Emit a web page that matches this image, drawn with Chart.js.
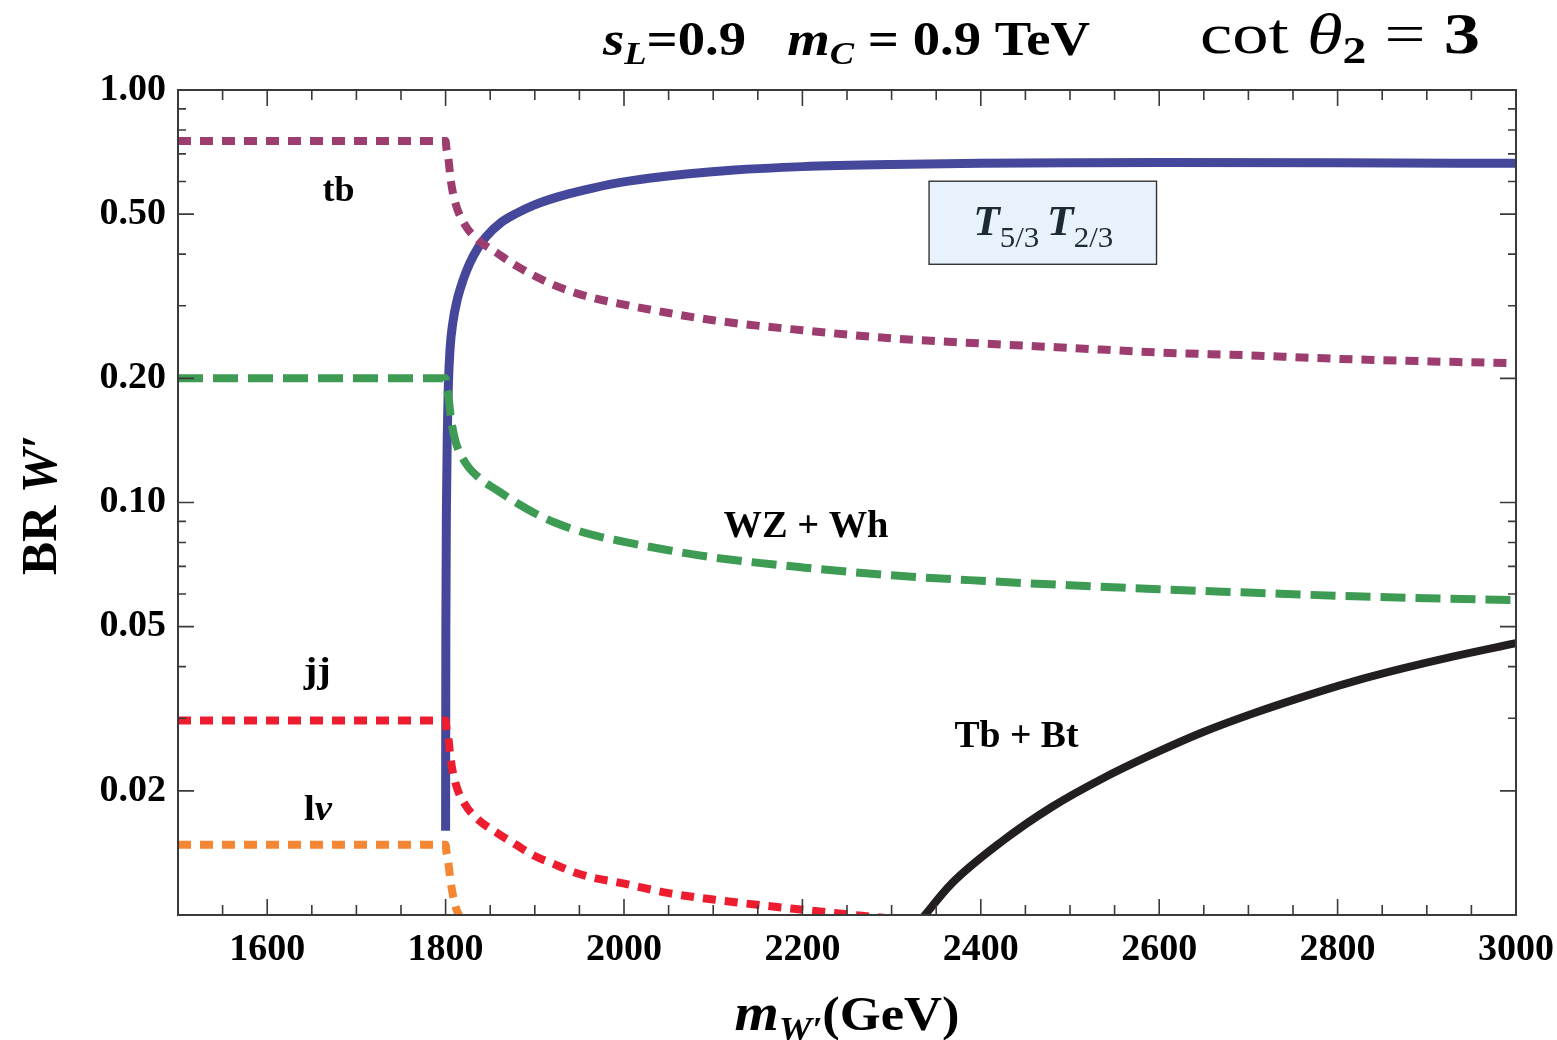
<!DOCTYPE html>
<html>
<head>
<meta charset="utf-8">
<script src="https://cdn.jsdelivr.net/npm/chart.js@4.4.0/dist/chart.umd.min.js"></script>
<style>
  html, body { margin: 0; padding: 0; background: #fff; }
  #wrap { width: 1557px; height: 1040px; }
</style>
</head>
<body>
<div id="wrap"><canvas id="chart" width="1557" height="1040"></canvas></div>
<script>
// BR of W' vs its mass (s_L=0.9, m_C=0.9 TeV, cot theta2=3)
const massTb = [1500, 1800, 1801, 1803, 1806, 1811, 1822, 1837, 1858, 1879, 1900, 1921, 1944, 1966, 1993, 2050, 2100, 2200, 2300, 2400, 2500, 2600, 2700, 2800, 2900, 3000];
const brTb   = [0.752, 0.752, 0.72, 0.684, 0.60, 0.532, 0.470, 0.432, 0.402, 0.375, 0.354, 0.337, 0.323, 0.313, 0.304, 0.288, 0.2765, 0.2616, 0.250, 0.243, 0.237, 0.231, 0.2274, 0.223, 0.2199, 0.2175];

const massWZ = [1500, 1800, 1801, 1803, 1806, 1811, 1822, 1837, 1858, 1879, 1900, 1921, 1944, 1966, 1993, 2050, 2100, 2200, 2300, 2400, 2500, 2600, 2700, 2800, 2900, 3000];
const brWZ   = [0.2, 0.2, 0.19, 0.182, 0.16, 0.141, 0.125, 0.115, 0.107, 0.1, 0.0942, 0.0897, 0.086, 0.0833, 0.0809, 0.0766, 0.0736, 0.0696, 0.0666, 0.0646, 0.063, 0.0616, 0.0605, 0.0594, 0.0586, 0.058];

const massJJ = [1500, 1800, 1801, 1803, 1806, 1811, 1822, 1837, 1858, 1879, 1900, 1921, 1944, 1966, 1993, 2050, 2100, 2200, 2300];
const brJJ   = [0.0296, 0.0296, 0.0283, 0.0269, 0.0236, 0.0209, 0.0185, 0.017, 0.0158, 0.0148, 0.0139, 0.0133, 0.0127, 0.0123, 0.012, 0.0113, 0.0109, 0.0103, 0.0098];

const massLv = [1500, 1800, 1801, 1803, 1806, 1811, 1817];
const brLv   = [0.0148, 0.0148, 0.0142, 0.0134, 0.0119, 0.0105, 0.0098];

const massTT = [1800, 1800.3, 1801, 1802, 1803, 1805, 1808, 1813, 1820, 1827, 1836, 1845, 1862, 1880, 1899, 1925, 1955, 1990, 2030, 2070, 2120, 2200, 2300, 2400, 2500, 2600, 2800, 3000];
const brTT   = [0.016, 0.05, 0.10, 0.15, 0.19, 0.236, 0.272, 0.31, 0.348, 0.38, 0.413, 0.44, 0.477, 0.503, 0.526, 0.55, 0.572, 0.594, 0.612, 0.626, 0.639, 0.652, 0.66, 0.664, 0.666, 0.667, 0.666, 0.664];

const massTbBt = [2334, 2367, 2424, 2480, 2536, 2592, 2648, 2705, 2761, 2817, 2873, 2929, 3000];
const brTbBt   = [0.0098, 0.0119, 0.0151, 0.0183, 0.0214, 0.0245, 0.0277, 0.0308, 0.0338, 0.0368, 0.0396, 0.0423, 0.0456];

const xTicks = [1600, 1800, 2000, 2200, 2400, 2600, 2800, 3000];
const yTicks = [1, 0.5, 0.2, 0.1, 0.05, 0.02];
const yMinor = [0.9, 0.8, 0.7, 0.6, 0.4, 0.3, 0.09, 0.08, 0.07, 0.06, 0.04, 0.03];

const SERIF = '"Liberation Serif", "Times New Roman", serif';

function pts(xs, ys) { return xs.map((x, i) => ({ x: x, y: ys[i] })); }

// draw a row of text pieces [text, font, dy], optionally squeezed to a width
function drawRuns(ctx, runs, x, y, align, fitWidth) {
  let total = 0;
  runs.forEach(r => { ctx.font = r[1]; total += ctx.measureText(r[0]).width; });
  const sx = fitWidth ? fitWidth / total : 1;
  ctx.save();
  ctx.translate(x, y);
  ctx.scale(sx, 1);
  let cx = align === 'center' ? -total / 2 : (align === 'right' ? -total : 0);
  runs.forEach(r => {
    ctx.font = r[1];
    ctx.fillText(r[0], cx, r[2] || 0);
    cx += ctx.measureText(r[0]).width;
  });
  ctx.restore();
}

const labels = [
  { x: 1680, y: 0.566, w: 32, runs: [['tb', 'bold 36px ' + SERIF]] },
  { x: 1656, y: 0.0387, w: 27, runs: [['jj', 'bold 36px ' + SERIF]] },
  { x: 1657, y: 0.0179, w: 28, runs: [['l', 'bold 36px ' + SERIF], ['ν', 'italic bold 36px ' + SERIF]] },
  { x: 2204, y: 0.087, w: 165, runs: [['WZ + Wh', 'bold 37px ' + SERIF]] },
  { x: 2440, y: 0.0269, w: 124, runs: [['Tb + Bt', 'bold 37px ' + SERIF]] }
];

const framePlugin = {
  id: 'frame',
  afterDraw(chart) {
    const ctx = chart.ctx, a = chart.chartArea;
    const xs = chart.scales.x, ys = chart.scales.y;
    ctx.save();
    ctx.strokeStyle = '#3a3a3a';
    ctx.lineWidth = 1.6;
    // inward ticks on all four sides
    ctx.beginPath();
    for (let m = 1550; m < 3000; m += 50) {
      const px = xs.getPixelForValue(m);
      const len = xTicks.includes(m) ? 16 : 10;
      ctx.moveTo(px, a.bottom); ctx.lineTo(px, a.bottom - len);
      ctx.moveTo(px, a.top); ctx.lineTo(px, a.top + len);
    }
    yTicks.concat(yMinor).forEach(v => {
      const py = ys.getPixelForValue(v);
      const len = yTicks.includes(v) ? 16 : 8;
      ctx.moveTo(a.left, py); ctx.lineTo(a.left + len, py);
      ctx.moveTo(a.right, py); ctx.lineTo(a.right - len, py);
    });
    ctx.stroke();
    ctx.lineWidth = 2;
    ctx.strokeRect(a.left, a.top, a.right - a.left, a.bottom - a.top);

    // curve labels
    ctx.fillStyle = '#000';
    ctx.textBaseline = 'middle';
    labels.forEach(l => {
      drawRuns(ctx, l.runs, xs.getPixelForValue(l.x), ys.getPixelForValue(l.y), 'center', l.w);
    });

    // boxed label for the T5/3 T2/3 channel
    const bl = xs.getPixelForValue(2342), br = xs.getPixelForValue(2597);
    const bt = ys.getPixelForValue(0.601), bb = ys.getPixelForValue(0.378);
    ctx.fillStyle = '#e8f2fd';
    ctx.fillRect(bl, bt, br - bl, bb - bt);
    ctx.lineWidth = 1.4;
    ctx.strokeStyle = '#333';
    ctx.strokeRect(bl, bt, br - bl, bb - bt);
    ctx.fillStyle = '#1e2a33';
    ctx.textBaseline = 'alphabetic';
    const T = 'italic bold 42px ' + SERIF, sub = '30px ' + SERIF;
    drawRuns(ctx, [['T', T], ['5/3', sub, 12], [' ', sub], ['T', T], ['2/3', sub, 12]],
      xs.getPixelForValue(2470), ys.getPixelForValue(0.445), 'center', 140);

    // titles
    ctx.fillStyle = '#000';
    drawRuns(ctx, [
      ['s', 'italic bold 48px ' + SERIF], ['L', 'italic bold 32px ' + SERIF, 9],
      ['=0.9   ', 'bold 48px ' + SERIF],
      ['m', 'italic bold 48px ' + SERIF], ['C', 'italic bold 32px ' + SERIF, 9],
      [' = 0.9 TeV', 'bold 48px ' + SERIF]
    ], 603, 55, 'left', 487);
    drawRuns(ctx, [
      ['cot ', '58px ' + SERIF], ['θ', 'italic 58px ' + SERIF], ['2', 'bold 38px ' + SERIF, 10],
      [' = ', '58px ' + SERIF], ['3', 'bold 58px ' + SERIF]
    ], 1200, 53, 'left', 280);

    drawRuns(ctx, [
      ['m', 'italic bold 52px ' + SERIF], ['W′', 'italic bold 34px ' + SERIF, 10],
      ['(GeV)', 'bold 48px ' + SERIF]
    ], 847, 1030, 'center', 225);

    ctx.save();
    ctx.translate(56, 505);
    ctx.rotate(-Math.PI / 2);
    drawRuns(ctx, [['BR ', 'bold 50px ' + SERIF], ['W′', 'italic bold 50px ' + SERIF]], 0, 0, 'center', 140);
    ctx.restore();
    ctx.restore();
  }
};

const line = (data, color, width, dash, order) => ({
  data: data, borderColor: color, borderWidth: width, borderDash: dash,
  pointRadius: 0, fill: false, cubicInterpolationMode: 'monotone',
  borderCapStyle: 'butt', order: order
});

new Chart(document.getElementById('chart'), {
  type: 'line',
  data: {
    datasets: [
      line(pts(massTT, brTT), '#45479b', 9, [], 10),
      line(pts(massTbBt, brTbBt), '#231f20', 8, [], 9),
      line(pts(massTb, brTb), '#9c3c6f', 8, [13, 9], 1),
      line(pts(massWZ, brWZ), '#3d9b53', 8, [25, 10], 2),
      line(pts(massJJ, brJJ), '#ed1c2e', 8, [13, 9], 3),
      line(pts(massLv, brLv), '#f58634', 8, [13, 9], 4)
    ]
  },
  options: {
    responsive: false,
    animation: false,
    layout: { padding: { top: 90, right: 41, left: 0, bottom: 0 } },
    plugins: { legend: { display: false }, tooltip: { enabled: false } },
    scales: {
      x: {
        type: 'linear', min: 1500, max: 3000,
        grid: { display: false, drawTicks: false },
        border: { display: false },
        afterBuildTicks: ax => { ax.ticks = xTicks.map(v => ({ value: v })); },
        afterFit: ax => { ax.height = 125; ax.paddingLeft = 0; ax.paddingRight = 0; },
        ticks: {
          font: { family: SERIF, size: 38, weight: 'bold' }, color: '#000',
          padding: 12, maxRotation: 0, autoSkip: false, callback: v => String(v)
        }
      },
      y: {
        type: 'logarithmic', min: 0.01, max: 1,
        grid: { display: false, drawTicks: false },
        border: { display: false },
        afterBuildTicks: ax => { ax.ticks = yTicks.map(v => ({ value: v })); },
        afterFit: ax => { ax.width = 178; ax.paddingTop = 0; ax.paddingBottom = 0; },
        ticks: {
          font: { family: SERIF, size: 38, weight: 'bold' }, color: '#000',
          padding: 12, autoSkip: false, callback: v => Number(v).toFixed(2)
        }
      }
    }
  },
  plugins: [framePlugin]
});
</script>
</body>
</html>
